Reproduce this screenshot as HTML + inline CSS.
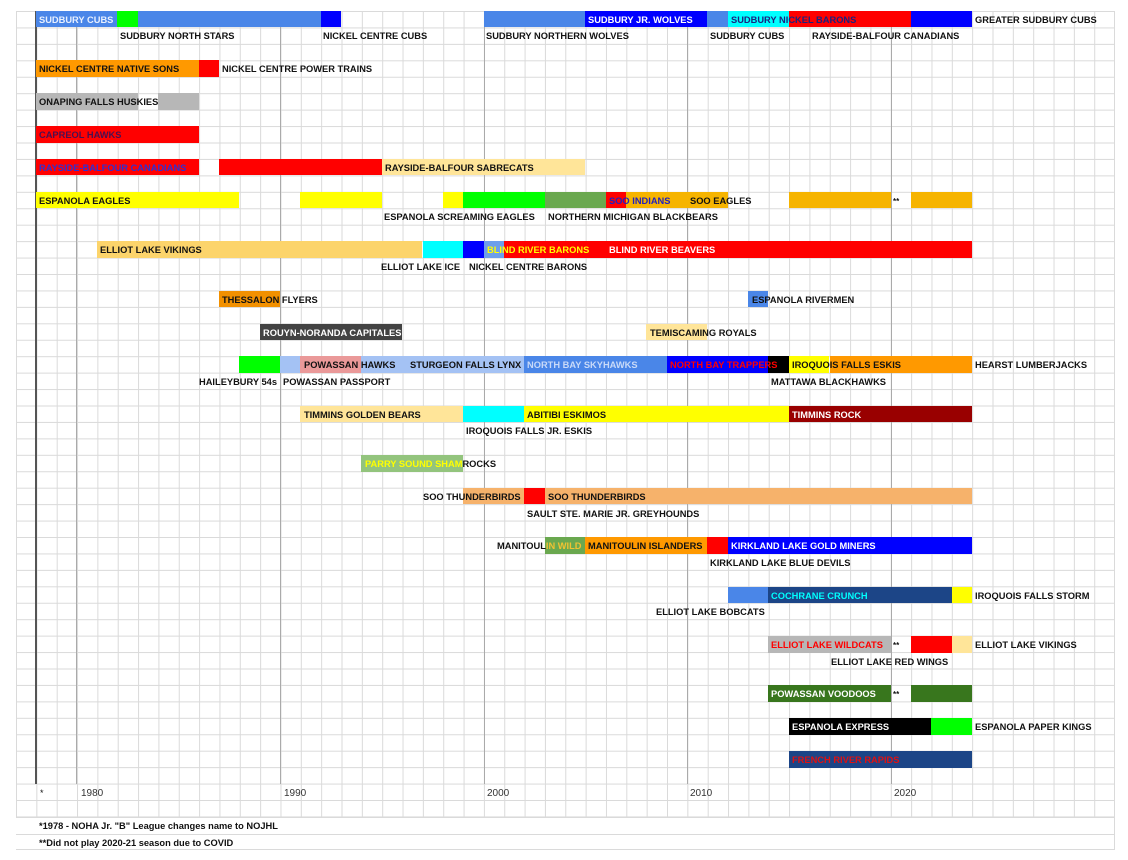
<!DOCTYPE html>
<html><head><meta charset="utf-8">
<style>
*{margin:0;padding:0;box-sizing:border-box}
body{width:1128px;height:860px;background:#fff;position:relative;overflow:hidden;font-family:"Liberation Sans",Arial,sans-serif}
#grid{position:absolute;left:15.5px;top:11px;width:1099px;height:839px;
background-image:linear-gradient(to right,#dadada 1px,transparent 1px),linear-gradient(to bottom,#dadada 1px,transparent 1px);
background-size:20.35px 100%,100% 16.45px;border-right:1px solid #dadada;border-bottom:1px solid #dadada}
.v{position:absolute;top:11px;height:773px;width:1px;background:#aaa}
.b{position:absolute;left:calc(15.5px + var(--a)*20.35px);width:calc((var(--e) - var(--a))*20.35px);top:calc(11px + var(--r)*16.45px);height:16.45px}
.t{position:absolute;top:calc(12px + var(--r)*16.45px);line-height:17px;font-size:9.3px;font-weight:700;white-space:nowrap;color:#111}
.w{color:#fff}
</style></head><body>
<div id="grid"></div>
<div class="v" style="left:76px"></div>
<div class="v" style="left:280px"></div>
<div class="v" style="left:484px"></div>
<div class="v" style="left:687px"></div>
<div class="v" style="left:891px"></div>
<div class="v" style="left:35px;width:2px;background:#555"></div>
<div style="position:absolute;left:16px;top:817px;width:1098px;height:33px;background:#fff;border-top:1px solid #dadada;border-bottom:1px solid #dadada"><div style="position:absolute;left:0;right:0;top:16px;height:1px;background:#dadada"></div></div>

<div class="b" style="--r:0;--a:1;--e:5;background:#4a86e8"></div>
<div class="b" style="--r:0;--a:5;--e:6;background:#00ff00"></div>
<div class="b" style="--r:0;--a:6;--e:15;background:#4a86e8"></div>
<div class="b" style="--r:0;--a:15;--e:16;background:#0000ff"></div>
<div class="b" style="--r:0;--a:23;--e:28;background:#4a86e8"></div>
<div class="b" style="--r:0;--a:28;--e:34;background:#0000ff"></div>
<div class="b" style="--r:0;--a:34;--e:35;background:#4a86e8"></div>
<div class="b" style="--r:0;--a:35;--e:38;background:#00ffff"></div>
<div class="b" style="--r:0;--a:38;--e:44;background:#ff0000"></div>
<div class="b" style="--r:0;--a:44;--e:47;background:#0000ff"></div>
<div class="b" style="--r:3;--a:1;--e:9;background:#ff9900"></div>
<div class="b" style="--r:3;--a:9;--e:10;background:#ff0000"></div>
<div class="b" style="--r:5;--a:1;--e:6;background:#b7b7b7"></div>
<div class="b" style="--r:5;--a:7;--e:9;background:#b7b7b7"></div>
<div class="b" style="--r:7;--a:1;--e:9;background:#ff0000"></div>
<div class="b" style="--r:9;--a:1;--e:9;background:#ff0000"></div>
<div class="b" style="--r:9;--a:10;--e:18;background:#ff0000"></div>
<div class="b" style="--r:9;--a:18;--e:28;background:#ffe599"></div>
<div class="b" style="--r:11;--a:1;--e:11;background:#ffff00"></div>
<div class="b" style="--r:11;--a:14;--e:18;background:#ffff00"></div>
<div class="b" style="--r:11;--a:21;--e:22;background:#ffff00"></div>
<div class="b" style="--r:11;--a:22;--e:26;background:#00ff00"></div>
<div class="b" style="--r:11;--a:26;--e:29;background:#6aa84f"></div>
<div class="b" style="--r:11;--a:29;--e:30;background:#ff0000"></div>
<div class="b" style="--r:11;--a:30;--e:35;background:#f6b400"></div>
<div class="b" style="--r:11;--a:38;--e:43;background:#f6b400"></div>
<div class="b" style="--r:11;--a:44;--e:47;background:#f6b400"></div>
<div class="b" style="--r:14;--a:4;--e:20;background:#fcd46b"></div>
<div class="b" style="--r:14;--a:20;--e:22;background:#00ffff"></div>
<div class="b" style="--r:14;--a:22;--e:23;background:#0000ff"></div>
<div class="b" style="--r:14;--a:23;--e:24;background:#6d9eeb"></div>
<div class="b" style="--r:14;--a:24;--e:47;background:#ff0000"></div>
<div class="b" style="--r:17;--a:10;--e:13;background:#f29000"></div>
<div class="b" style="--r:17;--a:36;--e:37;background:#4a86e8"></div>
<div class="b" style="--r:19;--a:12;--e:19;background:#434343"></div>
<div class="b" style="--r:19;--a:31;--e:34;background:#ffe599"></div>
<div class="b" style="--r:21;--a:11;--e:13;background:#00ff00"></div>
<div class="b" style="--r:21;--a:13;--e:14;background:#a4c2f4"></div>
<div class="b" style="--r:21;--a:14;--e:17;background:#ea9999"></div>
<div class="b" style="--r:21;--a:17;--e:25;background:#a4c2f4"></div>
<div class="b" style="--r:21;--a:25;--e:32;background:#4a86e8"></div>
<div class="b" style="--r:21;--a:32;--e:37;background:#0000ff"></div>
<div class="b" style="--r:21;--a:37;--e:38;background:#000"></div>
<div class="b" style="--r:21;--a:38;--e:40;background:#ffff00"></div>
<div class="b" style="--r:21;--a:40;--e:47;background:#ff9900"></div>
<div class="b" style="--r:24;--a:14;--e:22;background:#ffe599"></div>
<div class="b" style="--r:24;--a:22;--e:25;background:#00ffff"></div>
<div class="b" style="--r:24;--a:25;--e:38;background:#ffff00"></div>
<div class="b" style="--r:24;--a:38;--e:47;background:#990000"></div>
<div class="b" style="--r:27;--a:17;--e:22;background:#93c47d"></div>
<div class="b" style="--r:29;--a:22;--e:25;background:#f6b26b"></div>
<div class="b" style="--r:29;--a:25;--e:26;background:#ff0000"></div>
<div class="b" style="--r:29;--a:26;--e:47;background:#f6b26b"></div>
<div class="b" style="--r:32;--a:26;--e:28;background:#6aa84f"></div>
<div class="b" style="--r:32;--a:28;--e:34;background:#ff9900"></div>
<div class="b" style="--r:32;--a:34;--e:35;background:#ff0000"></div>
<div class="b" style="--r:32;--a:35;--e:47;background:#0000ff"></div>
<div class="b" style="--r:35;--a:35;--e:37;background:#4a86e8"></div>
<div class="b" style="--r:35;--a:37;--e:46;background:#1c4587"></div>
<div class="b" style="--r:35;--a:46;--e:47;background:#ffff00"></div>
<div class="b" style="--r:38;--a:37;--e:43;background:#b7b7b7"></div>
<div class="b" style="--r:38;--a:44;--e:46;background:#ff0000"></div>
<div class="b" style="--r:38;--a:46;--e:47;background:#ffe599"></div>
<div class="b" style="--r:41;--a:37;--e:43;background:#38761d"></div>
<div class="b" style="--r:41;--a:44;--e:47;background:#38761d"></div>
<div class="b" style="--r:43;--a:38;--e:45;background:#000"></div>
<div class="b" style="--r:43;--a:45;--e:47;background:#00ff00"></div>
<div class="b" style="--r:45;--a:38;--e:47;background:#1c4587"></div>

<div class="t w" style="--r:0;left:39px;color:#e8f0ff">SUDBURY CUBS</div>
<div class="t w" style="--r:0;left:588px">SUDBURY JR. WOLVES</div>
<div class="t" style="--r:0;left:731px;color:#1a237e">SUDBURY NICKEL BARONS</div>
<div class="t" style="--r:0;left:975px">GREATER SUDBURY CUBS</div>
<div class="t" style="--r:1;left:120px">SUDBURY NORTH STARS</div>
<div class="t" style="--r:1;left:323px">NICKEL CENTRE CUBS</div>
<div class="t" style="--r:1;left:486px">SUDBURY NORTHERN WOLVES</div>
<div class="t" style="--r:1;left:710px">SUDBURY CUBS</div>
<div class="t" style="--r:1;left:812px">RAYSIDE-BALFOUR CANADIANS</div>
<div class="t" style="--r:3;left:39px">NICKEL CENTRE NATIVE SONS</div>
<div class="t" style="--r:3;left:222px">NICKEL CENTRE POWER TRAINS</div>
<div class="t" style="--r:5;left:39px">ONAPING FALLS HUSKIES</div>
<div class="t" style="--r:7;left:39px;color:#4a1050">CAPREOL HAWKS</div>
<div class="t" style="--r:9;left:39px;color:#3030d0">RAYSIDE-BALFOUR CANADIANS</div>
<div class="t" style="--r:9;left:385px">RAYSIDE-BALFOUR SABRECATS</div>
<div class="t" style="--r:11;left:39px">ESPANOLA EAGLES</div>
<div class="t" style="--r:11;left:609px;color:#2020c0">SOO INDIANS</div>
<div class="t" style="--r:11;left:690px">SOO EAGLES</div>
<div class="t" style="--r:11;left:893px;font-size:8px">**</div>
<div class="t" style="--r:12;left:384px">ESPANOLA SCREAMING EAGLES</div>
<div class="t" style="--r:12;left:548px">NORTHERN MICHIGAN BLACKBEARS</div>
<div class="t" style="--r:14;left:100px">ELLIOT LAKE VIKINGS</div>
<div class="t" style="--r:14;left:487px;color:#ffff00">BLIND RIVER BARONS</div>
<div class="t w" style="--r:14;left:609px">BLIND RIVER BEAVERS</div>
<div class="t" style="--r:15;left:381px">ELLIOT LAKE ICE</div>
<div class="t" style="--r:15;left:469px">NICKEL CENTRE BARONS</div>
<div class="t" style="--r:17;left:222px">THESSALON FLYERS</div>
<div class="t" style="--r:17;left:752px">ESPANOLA RIVERMEN</div>
<div class="t w" style="--r:19;left:263px">ROUYN-NORANDA CAPITALES</div>
<div class="t" style="--r:19;left:650px">TEMISCAMING ROYALS</div>
<div class="t" style="--r:21;left:304px">POWASSAN HAWKS</div>
<div class="t" style="--r:21;left:410px">STURGEON FALLS LYNX</div>
<div class="t" style="--r:21;left:527px;color:#c9daf8">NORTH BAY SKYHAWKS</div>
<div class="t" style="--r:21;left:670px;color:#ff0000">NORTH BAY TRAPPERS</div>
<div class="t" style="--r:21;left:792px">IROQUOIS FALLS ESKIS</div>
<div class="t" style="--r:21;left:975px">HEARST LUMBERJACKS</div>
<div class="t" style="--r:22;left:199px">HAILEYBURY 54s</div>
<div class="t" style="--r:22;left:283px">POWASSAN PASSPORT</div>
<div class="t" style="--r:22;left:771px">MATTAWA BLACKHAWKS</div>
<div class="t" style="--r:24;left:304px">TIMMINS GOLDEN BEARS</div>
<div class="t" style="--r:24;left:527px">ABITIBI ESKIMOS</div>
<div class="t w" style="--r:24;left:792px">TIMMINS ROCK</div>
<div class="t" style="--r:25;left:466px">IROQUOIS FALLS JR. ESKIS</div>
<div class="t" style="--r:27;left:365px"><span style="color:#ffff00">PARRY SOUND SHAM</span>ROCKS</div>
<div class="t" style="--r:29;left:423px">SOO THUNDERBIRDS</div>
<div class="t" style="--r:29;left:548px">SOO THUNDERBIRDS</div>
<div class="t" style="--r:30;left:527px">SAULT STE. MARIE JR. GREYHOUNDS</div>
<div class="t" style="--r:32;left:497px">MANITOUL<span style="color:#f1c232">IN WILD</span></div>
<div class="t" style="--r:32;left:588px">MANITOULIN ISLANDERS</div>
<div class="t w" style="--r:32;left:731px">KIRKLAND LAKE GOLD MINERS</div>
<div class="t" style="--r:33;left:710px">KIRKLAND LAKE BLUE DEVILS</div>
<div class="t" style="--r:35;left:771px;color:#00ffff">COCHRANE CRUNCH</div>
<div class="t" style="--r:35;left:975px">IROQUOIS FALLS STORM</div>
<div class="t" style="--r:36;left:656px">ELLIOT LAKE BOBCATS</div>
<div class="t" style="--r:38;left:771px;color:#ff0000">ELLIOT LAKE WILDCATS</div>
<div class="t" style="--r:38;left:893px;font-size:8px">**</div>
<div class="t" style="--r:38;left:975px">ELLIOT LAKE VIKINGS</div>
<div class="t" style="--r:39;left:831px">ELLIOT LAKE RED WINGS</div>
<div class="t w" style="--r:41;left:771px">POWASSAN VOODOOS</div>
<div class="t" style="--r:41;left:893px;font-size:8px">**</div>
<div class="t w" style="--r:43;left:792px">ESPANOLA EXPRESS</div>
<div class="t" style="--r:43;left:975px">ESPANOLA PAPER KINGS</div>
<div class="t" style="--r:45;left:792px;color:#e01010">FRENCH RIVER RAPIDS</div>

<div class="t" style="--r:47;left:40px;font-weight:400;font-size:9px">*</div>
<div class="t" style="--r:47;left:81px;font-weight:400;font-size:10px;color:#333">1980</div>
<div class="t" style="--r:47;left:284px;font-weight:400;font-size:10px;color:#333">1990</div>
<div class="t" style="--r:47;left:487px;font-weight:400;font-size:10px;color:#333">2000</div>
<div class="t" style="--r:47;left:690px;font-weight:400;font-size:10px;color:#333">2010</div>
<div class="t" style="--r:47;left:894px;font-weight:400;font-size:10px;color:#333">2020</div>
<div class="t" style="--r:49;left:39px">*1978 - NOHA Jr. "B" League changes name to NOJHL</div>
<div class="t" style="--r:50;left:39px">**Did not play 2020-21 season due to COVID</div>
</body></html>
